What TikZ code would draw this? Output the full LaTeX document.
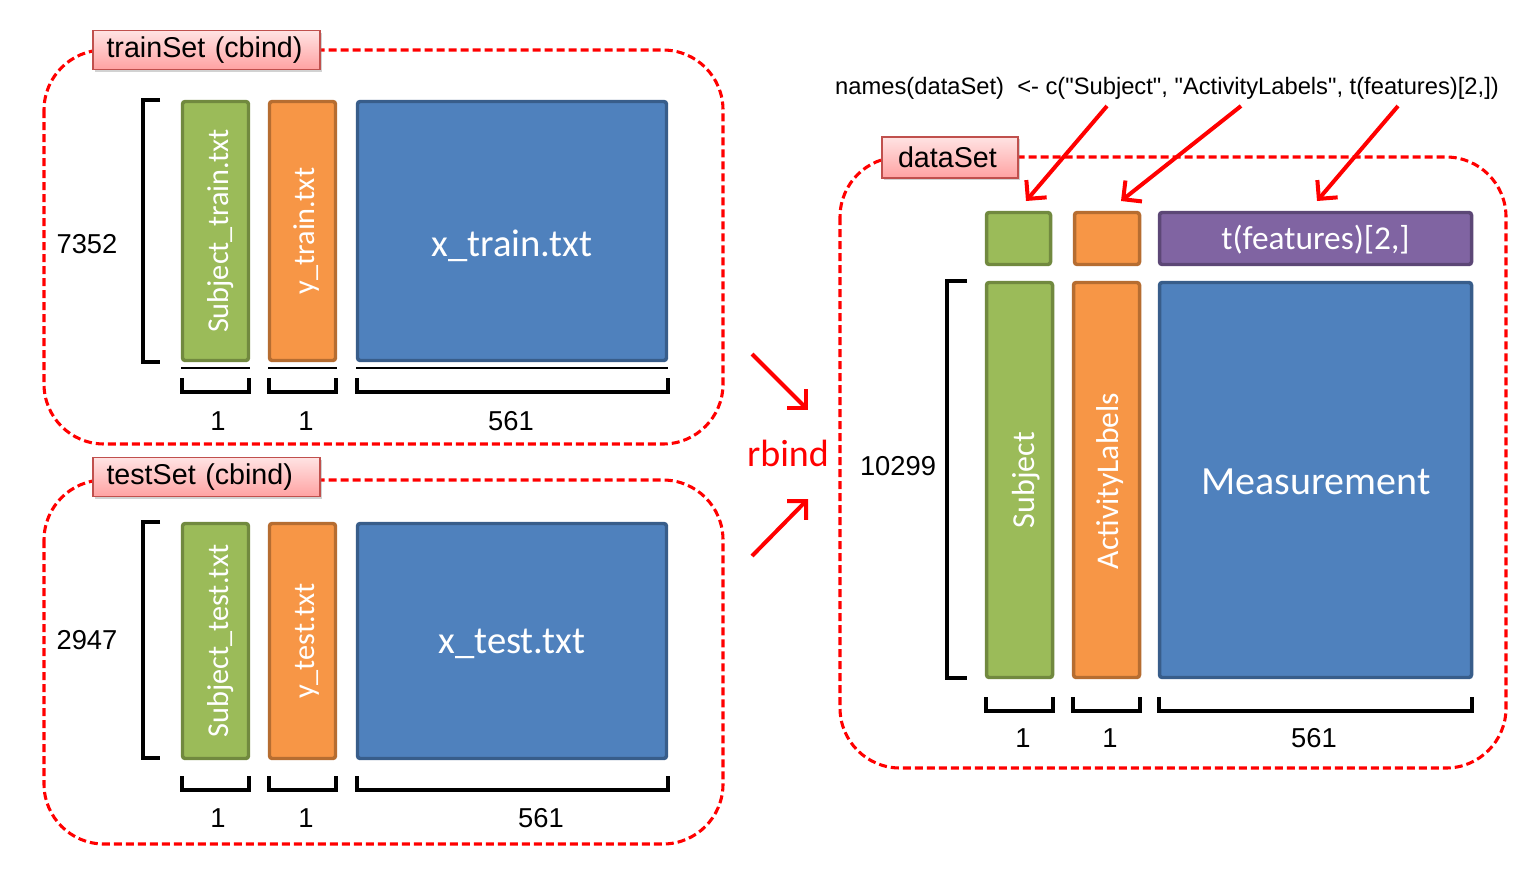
\documentclass[tikz,border=0pt]{standalone}
\usepackage{fontspec}
\setmainfont{Liberation Sans}
\newfontfamily\calib{Carlito}
\usetikzlibrary{arrows.meta,shadows}
\definecolor{gfill}{HTML}{9BBB59}
\definecolor{gline}{HTML}{71893F}
\definecolor{ofill}{HTML}{F79646}
\definecolor{oline}{HTML}{B66D31}
\definecolor{bfill}{HTML}{4F81BD}
\definecolor{bline}{HTML}{385D8A}
\definecolor{pfill}{HTML}{8064A2}
\definecolor{pline}{HTML}{5C4776}
\definecolor{lbltop}{HTML}{FFE3E3}
\definecolor{lblbot}{HTML}{FFA2A2}
\definecolor{lblline}{HTML}{C0504D}
\begin{document}
\begin{tikzpicture}[x=0.75pt,y=-0.75pt,
  box/.style={draw, line width=2.6pt, rounded corners=2pt, inner sep=0pt, text=white},
  grn/.style={box, fill=gfill, draw=gline},
  org/.style={box, fill=ofill, draw=oline},
  blu/.style={box, fill=bfill, draw=bline},
  prp/.style={box, fill=pfill, draw=pline},
  vtxt/.style={rotate=90, font=\calib\fontsize{22.7}{26}\selectfont, text=white},
  btxt/.style={font=\calib\fontsize{29}{34}\selectfont, text=white},
  lbl/.style={draw=lblline, line width=1.2pt, top color=lbltop, bottom color=lblbot,
    drop shadow={shadow xshift=1.5pt, shadow yshift=-1.5pt, opacity=0.35},
    inner sep=0pt, align=left, font=\fontsize{21.5}{25}\selectfont},
  frm/.style={draw=red, line width=2.3pt, dash pattern=on 6pt off 3pt, rounded corners=45pt},
  brk/.style={draw=black, line width=3pt, miter limit=10},
  num/.style={font=\fontsize{20.5}{24}\selectfont, inner sep=0pt},
  rarr/.style={draw=red, line width=3pt, -{Straight Barb[length=10pt,width=20pt]}},
  thin/.style={draw=black, line width=0.8pt}
]
\useasboundingbox (0,0) rectangle (1540,878);
\fill[white] (0,0) rectangle (1540,878);

% ---------- frames ----------
\draw[frm] (44,50) rectangle (723,444);
\draw[frm] (44,480) rectangle (723,844);
\draw[frm] (840,157) rectangle (1506,768);

% ---------- labels ----------
\node[lbl, minimum width=227*0.75pt, minimum height=39*0.75pt, text width=200*0.75pt] (trainlbl) at (206.5,50) {trainSet (cbind)};
\node[lbl, minimum width=227*0.75pt, minimum height=39*0.75pt, text width=200*0.75pt] (testlbl) at (206.5,477) {testSet (cbind)};
\node[lbl, minimum width=136*0.75pt, minimum height=41*0.75pt, text width=104*0.75pt] (datalbl) at (950,157.5) {dataSet};

% ---------- train set ----------
\node[grn, minimum width=66*0.75pt, minimum height=259*0.75pt] (g1) at (215.5,231) {};
\node[vtxt] (g1t) at (221,231) {Subject\_train.txt};
\node[org, minimum width=66*0.75pt, minimum height=259*0.75pt] (o1) at (302.5,231) {};
\node[vtxt] (o1t) at (307,231) {y\_train.txt};
\node[blu, minimum width=309*0.75pt, minimum height=259*0.75pt] (b1) at (512,231) {};
\node[btxt] (b1t) at (512,246) {x\_train.txt};
\draw[brk] (160,100) -- (143,100) -- (143,362) -- (160,362);
\node[num] (n7352) at (87,244) {7352};
\draw[thin] (181,368) -- (250,368);
\draw[thin] (268,368) -- (337,368);
\draw[thin] (356,368) -- (668,368);
\draw[brk] (182,378) -- (182,392) -- (249,392) -- (249,378);
\draw[brk] (269,378) -- (269,392) -- (336,392) -- (336,378);
\draw[brk] (357,378) -- (357,392) -- (668,392) -- (668,378);
\node[num] (tr1) at (218,421) {1};
\node[num] (tr2) at (306,421) {1};
\node[num] (tr3) at (511,421) {561};

% ---------- test set ----------
\node[grn, minimum width=66*0.75pt, minimum height=235*0.75pt] (g2) at (215.5,641) {};
\node[vtxt] (g2t) at (221,641) {Subject\_test.txt};
\node[org, minimum width=66*0.75pt, minimum height=235*0.75pt] (o2) at (302.5,641) {};
\node[vtxt] (o2t) at (307,641) {y\_test.txt};
\node[blu, minimum width=309*0.75pt, minimum height=235*0.75pt] (b2) at (512,641) {};
\node[btxt] (b2t) at (512,644) {x\_test.txt};
\draw[brk] (160,522) -- (143,522) -- (143,758) -- (160,758);
\node[num] (n2947) at (87,640) {2947};
\draw[brk] (182,776) -- (182,790) -- (249,790) -- (249,776);
\draw[brk] (269,776) -- (269,790) -- (336,790) -- (336,776);
\draw[brk] (357,776) -- (357,790) -- (668,790) -- (668,776);
\node[num] (te1) at (218,818) {1};
\node[num] (te2) at (306,818) {1};
\node[num] (te3) at (541,818) {561};

% ---------- rbind ----------
\node[font=\calib\fontsize{28.5}{32}\selectfont, text=red, inner sep=0pt] (rbind) at (788,453) {rbind};
\coordinate (ra1s) at (752,354);
\coordinate (ra1e) at (808,410);
\coordinate (ra2s) at (752,556);
\coordinate (ra2e) at (808,499);
\draw[rarr] (ra1s) -- (ra1e);
\draw[rarr] (ra2s) -- (ra2e);

% ---------- dataSet ----------
\node[grn, minimum width=64*0.75pt, minimum height=52*0.75pt] (hg) at (1018.5,238.5) {};
\node[org, minimum width=65*0.75pt, minimum height=52*0.75pt] (ho) at (1107,238.5) {};
\node[prp, minimum width=312*0.75pt, minimum height=52*0.75pt] (hp) at (1315.5,238.5) {};
\node[font=\calib\fontsize{25}{30}\selectfont, text=white] (hpt) at (1315.5,240) {t(features)[2,]};

\node[grn, minimum width=66*0.75pt, minimum height=395*0.75pt] (g3) at (1019.5,480) {};
\node[rotate=90, font=\calib\fontsize{24}{28}\selectfont, text=white] (g3t) at (1026,480) {Subject};
\node[org, minimum width=66*0.75pt, minimum height=395*0.75pt] (o3) at (1106.5,480) {};
\node[rotate=90, font=\calib\fontsize{23.7}{28}\selectfont, text=white] (o3t) at (1110,481) {ActivityLabels};
\node[blu, minimum width=312*0.75pt, minimum height=395*0.75pt] (b3) at (1315.5,480) {};
\node[font=\calib\fontsize{30}{36}\selectfont, text=white] (b3t) at (1316,482) {Measurement};
\draw[brk] (967,281) -- (947,281) -- (947,678) -- (967,678);
\node[num] (n10299) at (898,466) {10299};
\draw[brk] (986,697) -- (986,711) -- (1053,711) -- (1053,697);
\draw[brk] (1073,697) -- (1073,711) -- (1140,711) -- (1140,697);
\draw[brk] (1159,697) -- (1159,711) -- (1472,711) -- (1472,697);
\node[num] (d1) at (1023,738) {1};
\node[num] (d2) at (1110,738) {1};
\node[num] (d3) at (1314,738) {561};

% ---------- names annotation ----------
\node[font=\fontsize{17.8}{21}\selectfont, inner sep=0pt] (names) at (1167,88) {names(dataSet)\ \ <- c(\textquotedbl Subject\textquotedbl, \textquotedbl ActivityLabels\textquotedbl, t(features)[2,])};
\coordinate (na1s) at (1107,106);
\coordinate (na1e) at (1026,201);
\coordinate (na2s) at (1241,106);
\coordinate (na2e) at (1121,201);
\coordinate (na3s) at (1398,106);
\coordinate (na3e) at (1317,201);
\draw[rarr] (na1s) -- (na1e);
\draw[rarr] (na2s) -- (na2e);
\draw[rarr] (na3s) -- (na3e);
\end{tikzpicture}
\end{document}
